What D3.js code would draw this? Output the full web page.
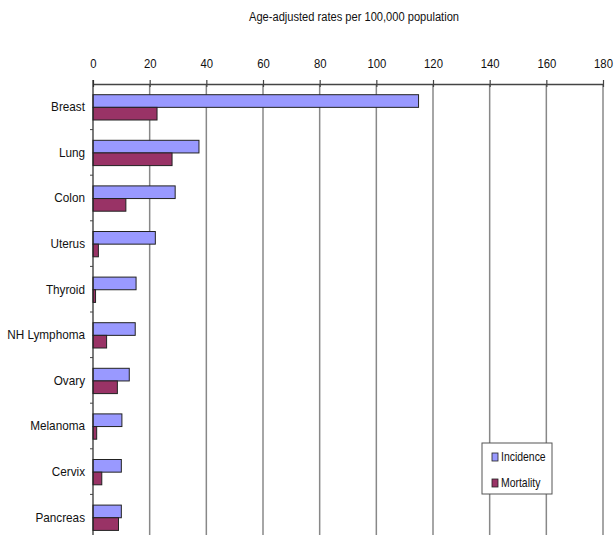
<!DOCTYPE html>
<html>
<head>
<meta charset="utf-8">
<script src="https://cdn.jsdelivr.net/npm/d3@7"></script>
<style>
  body { margin: 0; background: #fff; }
  text { font-family: "Liberation Sans", Arial, sans-serif; fill: #111; }
</style>
</head>
<body>
<div id="chart"></div>
<script>
// Cancer rates chart - horizontal grouped bars

var categories = ["Breast", "Lung", "Colon", "Uterus", "Thyroid", "NH Lymphoma",
                  "Ovary", "Melanoma", "Cervix", "Pancreas"];
var incidence = [114.9, 37.4, 29.0, 22.0, 15.2, 14.9, 12.8, 10.2, 10.0, 10.0];
var mortality = [22.6, 27.9, 11.6, 1.9, 0.9, 4.8, 8.6, 1.3, 3.1, 9.0];
var seriesNames = ["Incidence", "Mortality"];
var xTicks = [0, 20, 40, 60, 80, 100, 120, 140, 160, 180];

var svgW = 614, svgH = 535;
var plotLeft = 93, plotRight = 603, plotTop = 84;
var band = 45.6;
var squeeze = 0.87;   // fonts in the original look a bit condensed

var colors = { Incidence: "#9999ff", Mortality: "#993366" };

var rows = categories.map(function(c, i) {
    return { name: c, Incidence: incidence[i], Mortality: mortality[i] };
});

var x = d3.scaleLinear().domain([0, 180]).range([plotLeft, plotRight]);
var y = d3.scaleBand().domain(categories).range([plotTop, plotTop + band * categories.length]);
var y2 = d3.scaleBand().domain(seriesNames).range([10.7, 36]);

var svg = d3.select("#chart").append("svg")
    .attr("width", svgW)
    .attr("height", svgH);

// title
svg.append("text")
    .attr("x", 354).attr("y", 21)
    .attr("text-anchor", "middle")
    .style("font-size", "12.5px")
    .attr("textLength", 210)
    .attr("lengthAdjust", "spacingAndGlyphs")
    .text("Age-adjusted rates per 100,000 population");

// vertical gridlines
svg.append("g").selectAll("line")
    .data(xTicks.slice(1))
    .enter().append("line")
    .attr("x1", d => x(d)).attr("x2", d => x(d))
    .attr("y1", plotTop).attr("y2", svgH)
    .attr("stroke", "#888").attr("stroke-width", 1.5);

// top axis
var xAxis = d3.axisTop(x).tickValues(xTicks).tickSize(4).tickSizeOuter(0).tickPadding(12);
var gx = svg.append("g").attr("transform", "translate(0," + plotTop + ")").call(xAxis);
gx.select(".domain").attr("stroke", "#444").attr("stroke-width", 1.5);
gx.selectAll(".tick line").attr("stroke", "#444").attr("stroke-width", 1.2).attr("y2", -4).attr("y1", 3);
gx.selectAll(".tick text")
    .style("font-size", "13px").attr("fill", "#111")
    .attr("font-family", "Liberation Sans, Arial, sans-serif")
    .attr("transform", "scale(" + squeeze + ",1)");

// bars
var groups = svg.append("g").selectAll("g")
    .data(rows)
    .enter().append("g")
    .attr("transform", d => "translate(0," + y(d.name) + ")");

groups.selectAll("rect")
    .data(d => seriesNames.map(k => ({ key: k, value: d[k] })))
    .enter().append("rect")
    .attr("x", x(0))
    .attr("y", d => y2(d.key))
    .attr("width", d => x(d.value) - x(0))
    .attr("height", y2.bandwidth())
    .attr("fill", d => colors[d.key])
    .attr("stroke", "#222")
    .attr("stroke-width", 1);

// left axis
var yAxis = d3.axisLeft(y).tickSize(0).tickPadding(8 / squeeze);
var gy = svg.append("g").attr("transform", "translate(" + plotLeft + ",0)").call(yAxis);
gy.select(".domain").remove();
gy.selectAll(".tick text")
    .style("font-size", "13.5px").attr("fill", "#111")
    .attr("font-family", "Liberation Sans, Arial, sans-serif")
    .attr("transform", "scale(" + squeeze + ",1)");

svg.append("line")
    .attr("x1", plotLeft).attr("x2", plotLeft)
    .attr("y1", plotTop - 4).attr("y2", svgH)
    .attr("stroke", "#222").attr("stroke-width", 1.2);

// category separators on the left axis
svg.append("g").selectAll("line")
    .data(categories.slice(1))
    .enter().append("line")
    .attr("x1", plotLeft - 3).attr("x2", plotLeft)
    .attr("y1", d => y(d)).attr("y2", d => y(d))
    .attr("stroke", "#444");

// legend
var legend = svg.append("g").attr("transform", "translate(482,443)");
legend.append("rect")
    .attr("width", 70).attr("height", 51)
    .attr("fill", "#fff").attr("stroke", "#555").attr("stroke-width", 1);
var items = legend.selectAll("g.item")
    .data(seriesNames)
    .enter().append("g")
    .attr("transform", (d, i) => "translate(10," + (10 + i * 26) + ")");
items.append("rect")
    .attr("width", 6).attr("height", 8)
    .attr("fill", d => colors[d])
    .attr("stroke", "#222").attr("stroke-width", 0.8);
items.append("text")
    .attr("transform", "translate(9,8) scale(" + squeeze + ",1)")
    .style("font-size", "12px")
    .text(d => d);
</script>
</body>
</html>
